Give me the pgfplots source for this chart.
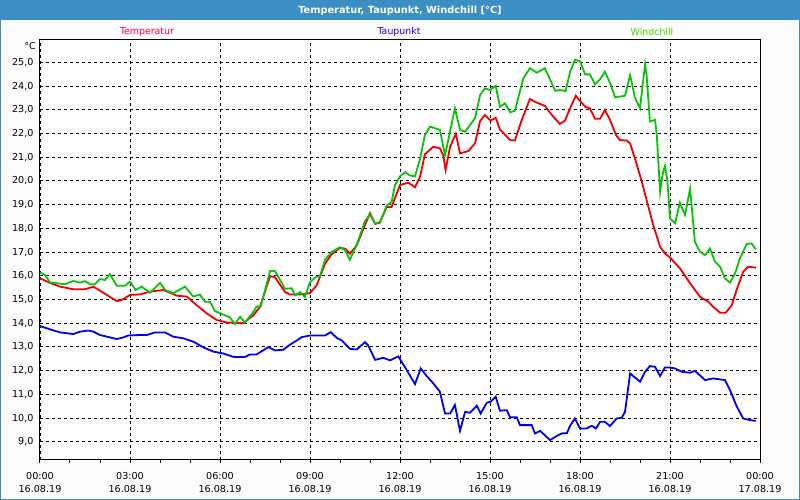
\documentclass[border=0pt]{standalone}
\usepackage{pgfplots}
\pgfplotsset{compat=1.18}
\usepackage{fontspec}
\setmainfont{DejaVu Sans}
\usetikzlibrary{calc,backgrounds}
\definecolor{titlebar}{RGB}{60,143,194}
\definecolor{bgc}{RGB}{252,252,252}
\definecolor{tcol}{RGB}{240,0,0}
\definecolor{dcol}{RGB}{0,0,240}
\definecolor{wcol}{RGB}{10,195,10}
\definecolor{tlab}{RGB}{255,0,64}
\definecolor{dlab}{RGB}{30,0,255}
\definecolor{wlab}{RGB}{70,215,0}
\begin{document}
\begin{tikzpicture}
\begin{axis}[
  scale only axis,
  width=720pt, height=420pt,
  xmin=0, xmax=24, ymin=8.23, ymax=25.94,
  axis background/.style={fill=white},
  axis line style={black, line width=1pt},
  xtick={0,3,...,24},
  xticklabels={{00:00\\16.08.19},{03:00\\16.08.19},{06:00\\16.08.19},{09:00\\16.08.19},{12:00\\16.08.19},{15:00\\16.08.19},{18:00\\16.08.19},{21:00\\16.08.19},{00:00\\17.08.19}},
  minor xtick={1,2,4,5,7,8,10,11,13,14,16,17,19,20,22,23},
  tick align=outside,
  xtick pos=bottom, ytick pos=left,
  major tick length=3pt, minor tick length=3pt,
  xtick style={black, line width=1pt},
  ytick={9,...,25},
  ytick style={draw=none},
  grid=major,
  major grid style={black, dash pattern=on 3pt off 3pt, line width=0.9pt},
  yticklabel={\pgfmathprintnumber[fixed,fixed zerofill,precision=1,use comma,assume math mode=true]{\tick}},
  tick label style={font=\fontsize{9.6}{13}\selectfont},
  xticklabel style={align=center, yshift=-6pt},
  every axis plot/.append style={line width=1.8pt, no marks},
]
\coordinate (SW) at (rel axis cs:0,0);
% Taupunkt
\addplot[dcol] coordinates {
(0,13.88)(0.33,13.74)(0.67,13.61)(1.11,13.54)(1.33,13.64)(1.61,13.69)(1.78,13.64)(2.0,13.50)(2.33,13.40)(2.56,13.33)(2.78,13.40)(2.94,13.48)(3.33,13.50)(3.56,13.50)(3.83,13.61)(4.17,13.61)(4.44,13.43)(4.78,13.36)(5.11,13.22)(5.44,12.98)(5.78,12.80)(6.11,12.72)(6.44,12.58)(6.83,12.57)(7.0,12.68)(7.22,12.68)(7.61,12.99)(7.83,12.85)(8.11,12.88)(8.33,13.09)(8.56,13.27)(8.72,13.41)(9.0,13.48)(9.5,13.48)(9.69,13.62)(9.89,13.38)(10.06,13.27)(10.33,12.92)(10.56,12.89)(10.83,13.20)(10.94,13.06)(11.17,12.45)(11.44,12.54)(11.67,12.43)(11.94,12.60)(12.06,12.36)(12.28,11.90)(12.5,11.43)(12.69,12.09)(12.89,11.77)(13.11,11.46)(13.33,11.11)(13.5,10.19)(13.67,10.19)(13.83,10.55)(14.0,9.46)(14.17,10.26)(14.33,10.22)(14.56,10.52)(14.69,10.19)(14.89,10.64)(15.02,10.69)(15.19,10.90)(15.33,10.31)(15.56,10.33)(15.67,10.03)(15.89,10.03)(16.0,9.70)(16.39,9.70)(16.5,9.35)(16.67,9.46)(17.0,9.07)(17.22,9.24)(17.39,9.35)(17.56,9.36)(17.67,9.67)(17.83,9.98)(18.0,9.56)(18.22,9.56)(18.39,9.67)(18.53,9.56)(18.67,9.84)(18.83,9.84)(19.0,9.66)(19.22,9.98)(19.39,10.01)(19.5,10.26)(19.67,11.88)(19.83,11.71)(20.0,11.53)(20.17,11.95)(20.33,12.19)(20.5,12.16)(20.67,11.77)(20.83,12.13)(21.0,12.13)(21.17,12.09)(21.39,11.95)(21.67,11.91)(21.83,11.99)(22.17,11.60)(22.44,11.67)(22.83,11.60)(23.0,11.18)(23.22,10.50)(23.44,9.98)(23.67,9.91)(23.86,9.88)
};
% Temperatur
\addplot[tcol] coordinates {
(0,15.89)(0.33,15.70)(0.67,15.54)(1.11,15.43)(1.5,15.43)(1.78,15.54)(2.11,15.28)(2.56,14.93)(2.72,14.97)(3.0,15.19)(3.33,15.21)(3.67,15.33)(4.11,15.40)(4.56,15.16)(4.89,15.12)(5.22,14.76)(5.56,14.41)(5.89,14.13)(6.22,14.03)(6.78,14.0)(7.11,14.33)(7.33,14.68)(7.67,15.98)(7.83,15.94)(8.17,15.31)(8.33,15.21)(8.67,15.21)(9.0,15.27)(9.22,15.59)(9.5,16.5)(9.72,16.9)(10.0,17.18)(10.17,17.14)(10.33,16.93)(10.56,17.28)(10.78,17.98)(11.0,18.64)(11.17,18.19)(11.33,18.26)(11.56,18.9)(11.72,18.9)(12.0,19.83)(12.28,19.92)(12.5,19.73)(12.67,20.18)(12.83,21.12)(13.11,21.44)(13.33,21.37)(13.44,21.09)(13.52,20.46)(13.67,21.44)(13.86,21.98)(14.0,21.16)(14.28,21.26)(14.5,21.58)(14.67,22.52)(14.83,22.78)(15.02,22.54)(15.19,22.66)(15.33,22.17)(15.67,21.72)(15.83,21.70)(16.06,22.57)(16.33,23.45)(16.56,23.30)(16.83,23.16)(17.06,22.78)(17.33,22.40)(17.5,22.54)(17.67,23.06)(17.86,23.59)(18.0,23.37)(18.17,23.13)(18.33,23.06)(18.5,22.62)(18.67,22.62)(18.83,22.99)(19.0,22.57)(19.2,21.93)(19.33,21.72)(19.56,21.70)(19.67,21.58)(19.83,20.95)(20.06,19.97)(20.22,19.19)(20.44,18.14)(20.67,17.22)(20.83,16.94)(21.0,16.77)(21.33,16.31)(21.67,15.68)(22.0,15.11)(22.28,14.90)(22.44,14.69)(22.67,14.44)(22.86,14.44)(23.06,14.76)(23.22,15.40)(23.44,16.17)(23.61,16.38)(23.86,16.34)
};
% Windchill
\addplot[wcol] coordinates {
(0,16.14)(0.17,16.03)(0.33,15.72)(0.83,15.64)(1.11,15.78)(1.33,15.71)(1.5,15.77)(1.67,15.64)(1.83,15.64)(2.0,15.86)(2.17,15.82)(2.33,16.07)(2.56,15.58)(2.83,15.58)(3.0,15.75)(3.19,15.40)(3.39,15.54)(3.67,15.28)(4.0,15.70)(4.17,15.40)(4.44,15.26)(4.83,15.54)(5.11,15.12)(5.33,15.21)(5.5,14.90)(5.67,14.90)(5.83,14.51)(6.06,14.39)(6.33,14.24)(6.5,13.96)(6.67,14.27)(6.83,14.02)(7.11,14.47)(7.22,14.70)(7.36,14.72)(7.67,16.20)(7.83,16.20)(8.17,15.45)(8.39,15.47)(8.5,15.17)(8.67,15.31)(8.83,15.10)(9.0,15.73)(9.22,15.97)(9.33,15.97)(9.5,16.67)(9.72,17.0)(10.0,17.2)(10.17,17.07)(10.33,16.67)(10.56,17.32)(10.83,18.30)(11.0,18.59)(11.17,18.19)(11.33,18.22)(11.56,18.97)(11.72,19.10)(11.83,19.81)(12.0,20.19)(12.17,20.37)(12.33,20.23)(12.5,20.19)(12.67,20.94)(12.83,21.93)(13.0,22.29)(13.33,22.15)(13.5,21.09)(13.61,21.72)(13.83,23.06)(14.0,22.15)(14.17,22.07)(14.5,22.64)(14.67,23.62)(14.83,23.90)(15.0,23.83)(15.19,24.01)(15.33,23.13)(15.5,23.27)(15.67,22.89)(15.83,22.96)(16.11,24.32)(16.33,24.75)(16.56,24.56)(16.83,24.75)(17.17,23.80)(17.33,23.83)(17.52,23.79)(17.67,24.60)(17.83,25.10)(18.0,25.05)(18.17,24.49)(18.33,24.49)(18.5,24.07)(18.67,24.28)(18.83,24.60)(19.0,24.14)(19.17,23.52)(19.5,23.59)(19.67,24.46)(19.83,23.52)(20.0,23.06)(20.17,24.93)(20.22,24.46)(20.33,22.50)(20.5,22.57)(20.56,21.93)(20.67,19.54)(20.76,20.32)(20.83,20.63)(20.91,20.04)(21.0,18.42)(21.17,18.21)(21.33,19.08)(21.5,18.56)(21.67,19.66)(21.83,17.43)(22.0,17.01)(22.17,16.87)(22.33,17.15)(22.5,16.59)(22.67,16.38)(22.83,15.89)(23.0,15.71)(23.17,16.10)(23.33,16.73)(23.56,17.34)(23.72,17.36)(23.86,17.11)
};
\end{axis}
\begin{scope}[on background layer]
\fill[bgc] ($(SW)+(-40pt,-40pt)$) rectangle ($(SW)+(760pt,460pt)$);
\fill[titlebar] ($(SW)+(-40pt,439.5pt)$) rectangle ($(SW)+(760pt,460pt)$);
\draw[titlebar, line width=1pt] ($(SW)+(-39.5pt,-39.5pt)$) rectangle ($(SW)+(759.5pt,459.5pt)$);
\end{scope}
\node[text=white, font=\fontsize{9.8}{12}\selectfont\bfseries] at ($(SW)+(360pt,449.5pt)$) {Temperatur, Taupunkt, Windchill [°C]};
\node[text=tlab, font=\fontsize{9.4}{12}\selectfont] at ($(SW)+(107pt,428pt)$) {Temperatur};
\node[text=dlab, font=\fontsize{9.4}{12}\selectfont] at ($(SW)+(359pt,428pt)$) {Taupunkt};
\node[text=wlab, font=\fontsize{9.4}{12}\selectfont] at ($(SW)+(612pt,428pt)$) {Windchill};
\node[anchor=east, inner sep=0pt, font=\fontsize{9.4}{12}\selectfont] at ($(SW)+(-4pt,414pt)$) {°C};
\end{tikzpicture}
\end{document}
